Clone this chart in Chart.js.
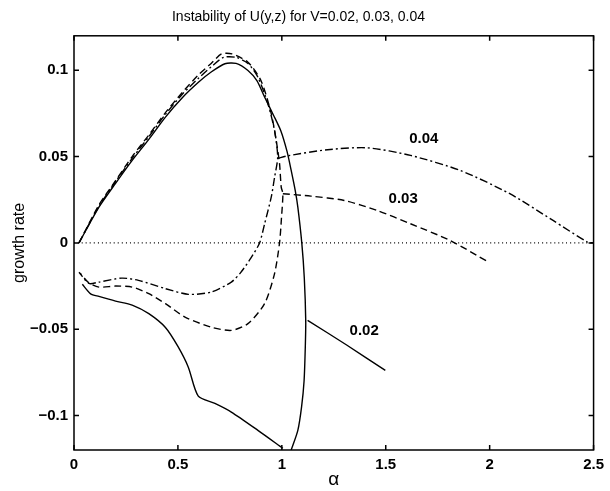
<!DOCTYPE html>
<html>
<head>
<meta charset="utf-8">
<script src="https://cdn.jsdelivr.net/npm/chart.js@4"></script>
<style>
  html, body { margin: 0; padding: 0; background: #fff; }
  #wrap { width: 610px; height: 491px; }
</style>
</head>
<body>
<div id="wrap"><canvas id="chart-instability"></canvas></div>
<script>
// Instability of U(y,z) - growth rate against alpha
const xTicks = [0, 0.5, 1, 1.5, 2, 2.5];
const yTicks = [-0.1, -0.05, 0, 0.05, 0.1];

// V = 0.02 (solid)
const alphaV02Main = [0.024, 0.12, 0.2, 0.28, 0.36, 0.44, 0.52, 0.6, 0.66, 0.726, 0.78, 0.837, 0.88, 0.917, 0.96, 0.995, 1.025, 1.045, 1.065, 1.077, 1.096, 1.108, 1.115, 1.113, 1.107, 1.095, 1.077, 1.045];
const growthV02Main = [0, 0.0207, 0.0345, 0.0478, 0.06, 0.0729, 0.084, 0.0932, 0.099, 0.1038, 0.104, 0.0999, 0.094, 0.0845, 0.074, 0.065, 0.053, 0.042, 0.03, 0.0207, 0, -0.02, -0.045, -0.06, -0.08, -0.095, -0.1086, -0.12];
const alphaV02Lower = [0.04, 0.08, 0.12, 0.2, 0.28, 0.36, 0.44, 0.5, 0.55, 0.598, 0.678, 0.757, 0.885, 1.005];
const growthV02Lower = [-0.024, -0.0295, -0.031, -0.0337, -0.036, -0.041, -0.049, -0.06, -0.072, -0.0888, -0.093, -0.098, -0.1086, -0.119];
const alphaV02Tail = [1.124, 1.31, 1.498];
const growthV02Tail = [-0.0449, -0.059, -0.0739];

// V = 0.03 (dashed)
const alphaV03Main = [0.024, 0.12, 0.2, 0.28, 0.36, 0.44, 0.52, 0.6, 0.66, 0.71, 0.76, 0.837, 0.9, 0.949, 0.973, 0.989, 0.997, 1.005, 0.998, 0.989, 0.965, 0.917, 0.837, 0.757, 0.66, 0.534, 0.44, 0.36, 0.28, 0.2, 0.12, 0.07, 0.03];
const growthV03Main = [0, 0.022, 0.036, 0.05, 0.0625, 0.0755, 0.087, 0.0975, 0.104, 0.1095, 0.1095, 0.1047, 0.094, 0.0749, 0.0594, 0.0459, 0.0323, 0.0285, 0.014, 0, -0.0178, -0.0352, -0.0468, -0.0507, -0.0488, -0.043, -0.0352, -0.0294, -0.0256, -0.025, -0.0256, -0.023, -0.0175];
const alphaV03Tail = [1.005, 1.14, 1.3, 1.459, 1.619, 1.81, 1.994];
const growthV03Tail = [0.0285, 0.0271, 0.0246, 0.0188, 0.0111, 0.0014, -0.0111];

// V = 0.04 (dash-dot)
const alphaV04Main = [0.024, 0.12, 0.2, 0.28, 0.36, 0.44, 0.52, 0.6, 0.66, 0.72, 0.78, 0.837, 0.885, 0.933, 0.965, 0.98, 0.965, 0.949, 0.917, 0.893, 0.85, 0.8, 0.757, 0.66, 0.55, 0.44, 0.31, 0.23, 0.12, 0.072, 0.024];
const growthV04Main = [0, 0.0212, 0.0355, 0.049, 0.0615, 0.0745, 0.086, 0.0955, 0.102, 0.1075, 0.1075, 0.104, 0.096, 0.0806, 0.065, 0.0497, 0.038, 0.0265, 0.011, 0, -0.009, -0.0175, -0.0227, -0.0285, -0.0298, -0.0265, -0.0217, -0.0204, -0.0227, -0.0235, -0.017];
const alphaV04Tail = [0.98, 1.03, 1.22, 1.411, 1.619, 1.858, 2.097, 2.305, 2.47, 2.5];
const growthV04Tail = [0.049, 0.0505, 0.054, 0.0551, 0.0507, 0.042, 0.0285, 0.013, 0.0005, 0];

// zero reference line
const alphaZero = [0, 2.5];
const growthZero = [0, 0];

const curveLabels = [
  { text: '0.04', a: 1.683, g: 0.0604 },
  { text: '0.03', a: 1.584, g: 0.0256 },
  { text: '0.02', a: 1.396, g: -0.0507 }
];

const FONT = '"Liberation Sans", Arial, Helvetica, sans-serif';

function pts(xs, ys) {
  return xs.map((v, i) => ({ x: v, y: ys[i] }));
}

function line(xs, ys, dash, width) {
  return {
    data: pts(xs, ys),
    borderColor: '#000',
    borderWidth: width || 1.4,
    borderDash: dash || [],
    pointRadius: 0,
    fill: false,
    tension: 0.25
  };
}

const framePlugin = {
  id: 'frame',
  afterDatasetsDraw(chart) {
    const { ctx, chartArea: a, scales: { x, y } } = chart;
    ctx.save();
    ctx.strokeStyle = '#000';
    ctx.lineWidth = 1.5;
    ctx.strokeRect(a.left, a.top, a.width, a.height);
    ctx.beginPath();
    x.ticks.forEach(t => {
      const px = x.getPixelForValue(t.value);
      ctx.moveTo(px, a.bottom); ctx.lineTo(px, a.bottom - 5);
      ctx.moveTo(px, a.top); ctx.lineTo(px, a.top + 5);
    });
    y.ticks.forEach(t => {
      const py = y.getPixelForValue(t.value);
      ctx.moveTo(a.left, py); ctx.lineTo(a.left + 5, py);
      ctx.moveTo(a.right, py); ctx.lineTo(a.right - 5, py);
    });
    ctx.stroke();

    ctx.fillStyle = '#000';
    ctx.font = 'bold 15px ' + FONT;
    ctx.textAlign = 'center';
    ctx.textBaseline = 'middle';
    curveLabels.forEach(l => {
      ctx.fillText(l.text, x.getPixelForValue(l.a), y.getPixelForValue(l.g));
    });
    ctx.restore();
  }
};

const ctx = document.getElementById('chart-instability');

new Chart(ctx, {
  type: 'line',
  data: {
    datasets: [
      line(alphaZero, growthZero, [1, 3], 1.2),
      line(alphaV02Main, growthV02Main),
      line(alphaV02Lower, growthV02Lower),
      line(alphaV02Tail, growthV02Tail),
      line(alphaV03Main, growthV03Main, [7, 4]),
      line(alphaV03Tail, growthV03Tail, [7, 4]),
      line(alphaV04Main, growthV04Main, [8, 3, 2, 3]),
      line(alphaV04Tail, growthV04Tail, [8, 3, 2, 3])
    ]
  },
  options: {
    responsive: true,
    maintainAspectRatio: false,
    animation: false,
    layout: { padding: { left: 0, right: 13, top: 0, bottom: 0 } },
    plugins: {
      legend: { display: false },
      tooltip: { enabled: false },
      title: {
        display: true,
        text: 'Instability of U(y,z) for V=0.02, 0.03, 0.04',
        color: '#000',
        font: { family: FONT, size: 14, weight: 'normal' },
        padding: { top: 9, bottom: 10 }
      }
    },
    scales: {
      x: {
        type: 'linear',
        min: 0,
        max: 2.5,
        afterBuildTicks: s => { s.ticks = xTicks.map(v => ({ value: v })); },
        afterFit: s => { s.height = 41; },
        grid: { display: false, drawTicks: false },
        border: { display: false },
        ticks: {
          color: '#000',
          padding: 6,
          font: { family: FONT, size: 15, weight: 'bold' },
          callback: v => String(v)
        },
        title: {
          display: true,
          text: 'α',
          color: '#000',
          font: { family: FONT, size: 19 },
          padding: { top: 0, bottom: 0 }
        }
      },
      y: {
        type: 'linear',
        min: -0.12,
        max: 0.12,
        afterBuildTicks: s => { s.ticks = yTicks.map(v => ({ value: v })); },
        afterFit: s => { s.width = 74; },
        grid: { display: false, drawTicks: false },
        border: { display: false },
        ticks: {
          color: '#000',
          padding: 6,
          font: { family: FONT, size: 15, weight: 'bold' },
          callback: v => (v < 0 ? '\u2212' + Math.abs(v) : String(v))
        },
        title: {
          display: true,
          text: 'growth rate',
          color: '#000',
          font: { family: FONT, size: 16 },
          padding: { top: 10, bottom: 0 }
        }
      }
    }
  },
  plugins: [framePlugin]
});
</script>
</body>
</html>
